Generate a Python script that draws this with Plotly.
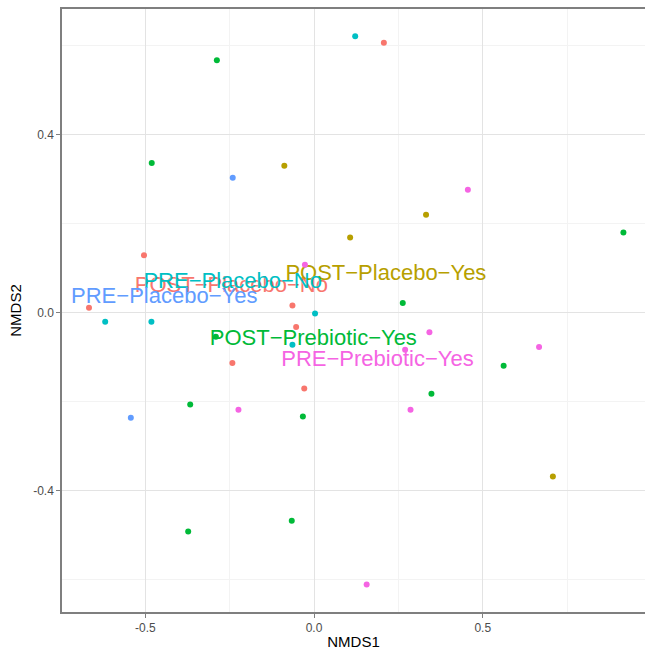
import plotly.graph_objects as go

# NMDS ordination scores per sample group
groups = [
    "POST−Placebo−No",
    "POST−Placebo−Yes",
    "POST−Prebiotic−Yes",
    "PRE−Placebo−No",
    "PRE−Placebo−Yes",
    "PRE−Prebiotic−Yes",
]

post_placebo_no_x = [0.207, -0.504, -0.667, -0.064, -0.053, -0.242, -0.029]
post_placebo_no_y = [0.606, 0.129, 0.011, 0.016, -0.032, -0.113, -0.170]

post_placebo_yes_x = [-0.088, 0.332, 0.107, 0.708]
post_placebo_yes_y = [0.330, 0.220, 0.169, -0.368]

post_prebiotic_yes_x = [-0.288, -0.481, 0.917, 0.263, -0.367, -0.033, 0.348, 0.562, -0.373, -0.066, -0.291]
post_prebiotic_yes_y = [0.567, 0.336, 0.180, 0.022, -0.206, -0.233, -0.182, -0.119, -0.491, -0.467, -0.054]

pre_placebo_no_x = [0.122, -0.619, -0.482, 0.003, -0.064]
pre_placebo_no_y = [0.621, -0.020, -0.020, -0.002, -0.072]

pre_placebo_yes_x = [-0.241, -0.543]
pre_placebo_yes_y = [0.303, -0.236]

pre_prebiotic_yes_x = [0.456, -0.027, 0.342, 0.270, 0.667, -0.224, 0.286, 0.156]
pre_prebiotic_yes_y = [0.276, 0.108, -0.044, -0.083, -0.077, -0.218, -0.218, -0.610]

# group centre positions used for the group labels
centre_x = [-0.245, 0.213, -0.002, -0.241, -0.444, 0.188]
centre_y = [0.059, 0.085, -0.059, 0.068, 0.034, -0.107]

x_ticks = [-0.5, 0.0, 0.5]
y_ticks = [-0.4, 0.0, 0.4]

colors = ["#F8766D", "#B79F00", "#00BA38", "#00BFC4", "#619CFF", "#F564E3"]

series = [
    (post_placebo_no_x, post_placebo_no_y),
    (post_placebo_yes_x, post_placebo_yes_y),
    (post_prebiotic_yes_x, post_prebiotic_yes_y),
    (pre_placebo_no_x, pre_placebo_no_y),
    (pre_placebo_yes_x, pre_placebo_yes_y),
    (pre_prebiotic_yes_x, pre_prebiotic_yes_y),
]

fig = go.Figure()

# group labels first, so the sample points sit on top of them
for name, cx, cy, col in zip(groups, centre_x, centre_y, colors):
    fig.add_trace(go.Scatter(
        x=[cx], y=[cy], mode="text", text=[name],
        textposition="middle center",
        textfont=dict(family="Liberation Sans, Arial, sans-serif", size=22, color=col),
        showlegend=False, hoverinfo="skip",
    ))

for name, (xs, ys), col in zip(groups, series, colors):
    fig.add_trace(go.Scatter(
        x=xs, y=ys, mode="markers", name=name,
        marker=dict(size=6, color=col, line=dict(width=0)),
        showlegend=False,
    ))

axis_font = dict(family="Liberation Sans, Arial, sans-serif", size=12, color="#4D4D4D")
title_font = dict(family="Liberation Sans, Arial, sans-serif", size=15, color="#000000")

fig.update_layout(
    width=645, height=657,
    margin=dict(l=62, r=0, t=9, b=45),
    paper_bgcolor="white", plot_bgcolor="white",
    xaxis=dict(
        range=[-0.747, 0.981],
        tickvals=x_ticks, ticktext=[f"{v:.1f}" for v in x_ticks],
        tickfont=axis_font, ticks="outside", ticklen=4, tickcolor="#7F7F7F",
        showgrid=True, gridcolor="#E3E3E3", gridwidth=1,
        minor=dict(dtick=0.25, tick0=0, showgrid=True, gridcolor="#F3F3F3", gridwidth=1),
        showline=True, linecolor="#7F7F7F", linewidth=1.5, mirror=True,
        zeroline=False,
        title=dict(text="NMDS1", font=title_font, standoff=2),
    ),
    yaxis=dict(
        range=[-0.672, 0.682],
        tickvals=y_ticks, ticktext=[f"{v:.1f}" for v in y_ticks],
        tickfont=axis_font, ticks="outside", ticklen=4, tickcolor="#7F7F7F",
        showgrid=True, gridcolor="#E3E3E3", gridwidth=1,
        minor=dict(dtick=0.2, tick0=0, showgrid=True, gridcolor="#F3F3F3", gridwidth=1),
        showline=True, linecolor="#7F7F7F", linewidth=1.5,
        zeroline=False,
        title=dict(text="NMDS2", font=title_font, standoff=8),
    ),
)

fig.write_html("out.html")
